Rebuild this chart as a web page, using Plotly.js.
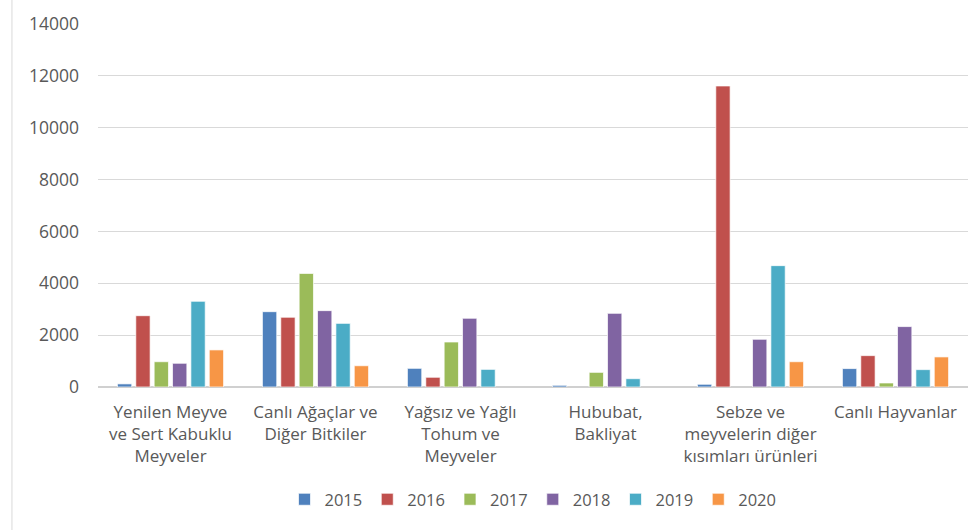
<!DOCTYPE html>
<html>
<head>
<meta charset="utf-8">
<script src="https://cdn.plot.ly/plotly-3.0.1.min.js"></script>
<style>html,body{margin:0;padding:0;background:#fff;}#chart{width:980px;height:530px;}</style>
</head>
<body>
<div id="chart"></div>
<script>
const categories = [
  "Yenilen Meyve<br>ve Sert Kabuklu<br>Meyveler",
  "Canlı Ağaçlar ve<br>Diğer Bitkiler",
  "Yağsız ve Yağlı<br>Tohum ve<br>Meyveler",
  "Hububat,<br>Bakliyat",
  "Sebze ve<br>meyvelerin diğer<br>kısımları ürünleri",
  "Canlı Hayvanlar"
];
const years = ["2015", "2016", "2017", "2018", "2019", "2020"];
const v2015 = [120, 2905, 720, 65, 105, 710];
const v2016 = [2750, 2690, 375, null, 11610, 1210];
const v2017 = [975, 4380, 1735, 565, null, 155];
const v2018 = [915, 2945, 2650, 2840, 1840, 2330];
const v2019 = [3305, 2455, 680, 320, 4680, 670];
const v2020 = [1430, 820, null, null, 975, 1160];
const seriesValues = [v2015, v2016, v2017, v2018, v2019, v2020];
const colors = ["#4F81BD", "#C0504D", "#9BBB59", "#8064A2", "#4BACC6", "#F79646"];
const yTicks = [0, 2000, 4000, 6000, 8000, 10000, 12000, 14000];

const font = "Open Sans, Noto Sans, sans-serif";
const traces = years.map((y, i) => ({
  type: "bar",
  name: y,
  x: categories,
  y: seriesValues[i],
  marker: {color: colors[i], line: {color: "rgba(255,255,255,0.7)", width: 1}},
  hoverinfo: "x+y+name"
}));

const layout = {
  width: 980, height: 530,
  margin: {l: 98, r: 12, t: 24, b: 143},
  paper_bgcolor: "#fff", plot_bgcolor: "#fff",
  font: {family: font, size: 16, color: "#595959"},
  barmode: "group",
  bargap: 0.24,
  bargroupgap: 0.22,
  showlegend: true,
  legend: {orientation: "h", x: 0.5, xanchor: "center", y: -0.31, yanchor: "middle",
           font: {family: font, size: 16.5, color: "#595959"}, itemwidth: 30, traceorder: "normal"},
  xaxis: {type: "category", showgrid: false, showline: false, zeroline: false, ticks: "",
          tickfont: {family: font, size: 17, color: "#595959"}, automargin: false, tickangle: 0,
          ticklabelstandoff: 13},
  yaxis: {range: [0, 14000], tickvals: yTicks, ticktext: yTicks.map(String),
          showgrid: true, gridcolor: "#d9d9d9", gridwidth: 1, zeroline: true, zerolinecolor: "#d0d0d0",
          zerolinewidth: 1.5, showline: false, ticks: "", ticklabelstandoff: 18,
          tickfont: {family: font, size: 17.5, color: "#595959"}, automargin: false},
  shapes: [{type: "line", xref: "paper", yref: "paper", x0: -0.0989, x1: -0.0989, y0: -0.4, y1: 1.07,
            line: {color: "#d9d9d9", width: 1}}]
};
Plotly.newPlot("chart", traces, layout, {displayModeBar: false, staticPlot: true});
</script>
</body>
</html>
